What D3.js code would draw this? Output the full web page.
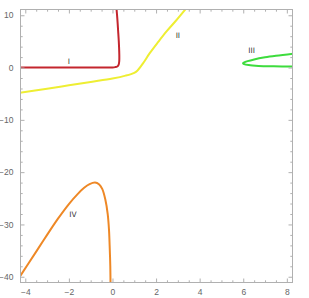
<!doctype html>
<html lang="en">
<head>
  <meta charset="utf-8">
  <title>Curves I-IV</title>
  <style>
    body { margin: 0; background: #fff; }
    svg { display: block; font-family: "DejaVu Sans", sans-serif; }
  </style>
</head>
<body>
  <script src="https://cdn.jsdelivr.net/npm/d3@7/dist/d3.min.js"></script>
  <svg width="309" height="298"></svg>
  <script>
    // branch I (red)
    var curveIx = [-4.3, -3, -2, -1, -0.3, 0, 0.12, 0.22, 0.28, 0.31, 0.31, 0.29, 0.26, 0.22, 0.18];
    var curveIy = [0, 0, 0, 0, 0.01, 0.03, 0.08, 0.2, 0.5, 1.2, 3, 5, 7, 9.5, 11.5];
    // branch II (yellow)
    var curveIIx = [-4.3, -3, -2, -1, 0, 0.6, 1.0, 1.15, 1.4, 1.71, 2.1, 2.48, 2.9, 3.4];
    var curveIIy = [-4.85, -4.05, -3.4, -2.75, -2.1, -1.55, -1.0, -0.55, 0.8, 2.75, 4.9, 6.9, 8.9, 11.4];
    // branch III (green)
    var curveIIIx = [8.3, 7.5, 7, 6.5, 6.2, 6.03, 5.99, 6.04, 6.25, 6.7, 7.4, 8.3];
    var curveIIIy = [2.65, 2.25, 1.95, 1.55, 1.22, 0.95, 0.82, 0.66, 0.47, 0.32, 0.24, 0.19];
    // branch IV (orange)
    var curveIVx = [-4.3, -3.5, -3, -2.5, -2, -1.6, -1.3, -1.05, -0.8, -0.62, -0.47, -0.33, -0.22, -0.16, -0.13, -0.1, -0.09];
    var curveIVy = [-40.3, -35.2, -32.0, -28.9, -26.1, -24.2, -23.0, -22.3, -22.0, -22.3, -23.2, -25.2, -28, -31, -34, -38, -41.5];

    var branchNames = ["I", "II", "III", "IV"];
    var labelX = [-2.0, 3.0, 6.38, -1.81];
    var labelY = [1.1, 6.1, 3.2, -28.1];
    var colors = ["#c4262e", "#eeee33", "#3ddc3d", "#ee8826"];

    var xTicks = [-4, -2, 0, 2, 4, 6, 8];
    var yTicks = [10, 0, -10, -20, -30, -40];

    var svg = d3.select("svg");
    // plot box (note: "top" is a reserved window property, so use pLeft etc.)
    var pLeft = 20.5, pRight = 292.5, pTop = 9.5, pBottom = 282.5;

    var x = d3.scaleLinear().domain([-4.22, 8.26]).range([pLeft, pRight]);
    var y = d3.scaleLinear().domain([-41.1, 11.1]).range([pBottom, pTop]);

    svg.append("clipPath").attr("id", "clip")
      .append("rect")
        .attr("x", pLeft).attr("y", pTop)
        .attr("width", pRight - pLeft).attr("height", pBottom - pTop);

    var branches = [
      d3.zip(curveIx, curveIy),
      d3.zip(curveIIx, curveIIy),
      d3.zip(curveIIIx, curveIIIy),
      d3.zip(curveIVx, curveIVy)
    ];

    var line = d3.line()
      .x(d => x(d[0]))
      .y(d => y(d[1]))
      .curve(d3.curveCatmullRom.alpha(0.5));

    svg.append("g").attr("clip-path", "url(#clip)")
      .selectAll("path")
      .data(branches)
      .enter()
      .append("path")
        .attr("d", line)
        .attr("fill", "none")
        .attr("stroke", (d, i) => colors[i])
        .attr("stroke-width", 2);

    // frame with ticks on all four sides, pointing in
    var frameColor = "#b0b0b0";
    var xMinor = d3.range(-4, 8.01, 0.5).filter(v => xTicks.indexOf(v) < 0);
    var yMinor = d3.range(-40, 10.01, 2).filter(v => yTicks.indexOf(v) < 0);

    function styleAxis(g) {
      g.select(".domain").remove();
      g.selectAll("line").attr("stroke", frameColor);
      g.selectAll("text").attr("fill", "#666").style("font-size", "8.5px");
    }

    svg.append("g").attr("transform", `translate(0,${pBottom})`)
      .call(d3.axisBottom(x).tickValues(xTicks).tickSizeInner(-4).tickPadding(6).tickFormat(d3.format("d")))
      .call(styleAxis);
    svg.append("g").attr("transform", `translate(0,${pBottom})`)
      .call(d3.axisBottom(x).tickValues(xMinor).tickSizeInner(-2.2).tickFormat(""))
      .call(styleAxis);
    svg.append("g").attr("transform", `translate(0,${pTop})`)
      .call(d3.axisTop(x).tickValues(xTicks).tickSizeInner(-4).tickFormat(""))
      .call(styleAxis);
    svg.append("g").attr("transform", `translate(0,${pTop})`)
      .call(d3.axisTop(x).tickValues(xMinor).tickSizeInner(-2.2).tickFormat(""))
      .call(styleAxis);

    svg.append("g").attr("transform", `translate(${pLeft},0)`)
      .call(d3.axisLeft(y).tickValues(yTicks).tickSizeInner(-4).tickPadding(7).tickFormat(d3.format("d")))
      .call(styleAxis);
    svg.append("g").attr("transform", `translate(${pLeft},0)`)
      .call(d3.axisLeft(y).tickValues(yMinor).tickSizeInner(-2.2).tickFormat(""))
      .call(styleAxis);
    svg.append("g").attr("transform", `translate(${pRight},0)`)
      .call(d3.axisRight(y).tickValues(yTicks).tickSizeInner(-4).tickFormat(""))
      .call(styleAxis);
    svg.append("g").attr("transform", `translate(${pRight},0)`)
      .call(d3.axisRight(y).tickValues(yMinor).tickSizeInner(-2.2).tickFormat(""))
      .call(styleAxis);

    svg.append("rect")
      .attr("x", pLeft).attr("y", pTop)
      .attr("width", pRight - pLeft).attr("height", pBottom - pTop)
      .attr("fill", "none").attr("stroke", frameColor).attr("stroke-width", 1);

    // branch labels
    svg.selectAll("text.branch")
      .data(branchNames)
      .enter()
      .append("text")
        .attr("class", "branch")
        .attr("x", (d, i) => x(labelX[i]))
        .attr("y", (d, i) => y(labelY[i]))
        .attr("text-anchor", "middle")
        .attr("dominant-baseline", "central")
        .attr("fill", "#333")
        .style("font-size", "7.5px")
        .text(d => d);
  </script>
</body>
</html>
